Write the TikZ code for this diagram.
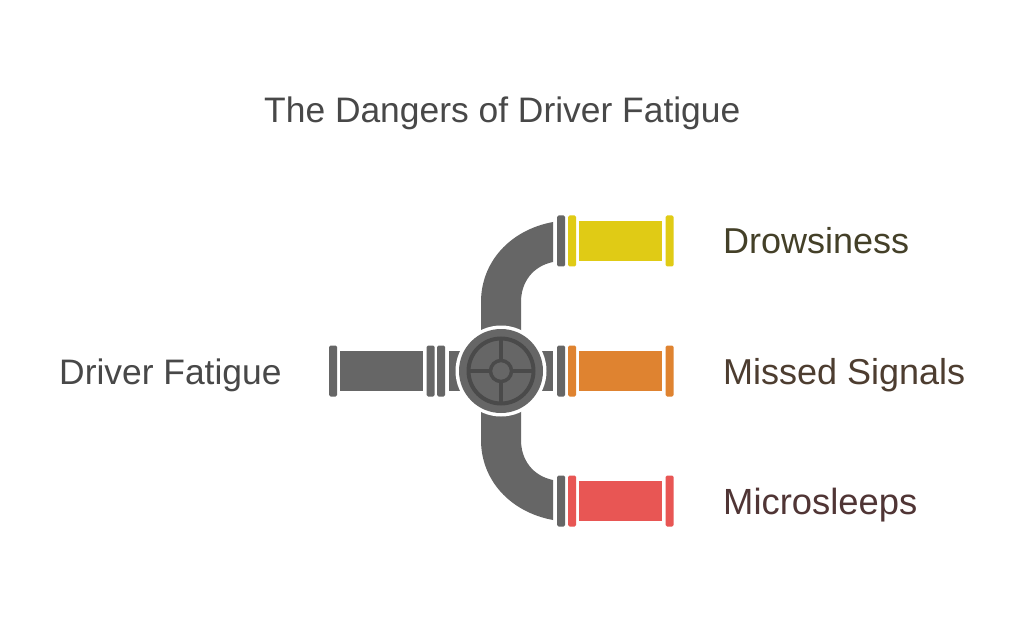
\documentclass[tikz,border=0pt]{standalone}
\usepackage{fontspec}
\setmainfont{Liberation Sans}
\definecolor{pipe}{HTML}{666666}
\definecolor{pipedark}{HTML}{4A4A4A}
\definecolor{txt}{HTML}{484848}
\definecolor{yel}{HTML}{E0CB15}
\definecolor{org}{HTML}{DF8330}
\definecolor{rd}{HTML}{E85654}
\tikzset{
 lab/.style={anchor=base west,inner sep=0pt,font=\fontsize{#1}{40}\selectfont},
 flange/.style={rounded corners=1.5pt},
}
\newcommand{\flange}[3]{\fill[#3,flange] (#1,#2-25.5) rectangle (#1+8,#2+25.5);}
\newcommand{\tube}[4]{\fill[#4] (#1,#3-20) rectangle (#2,#3+20);}
\begin{document}
\begin{tikzpicture}[x=1pt,y=-1pt]
\useasboundingbox (0,0) rectangle (1024,617);
\fill[white] (0,0) rectangle (1024,617);
% elbows
\fill[pipe] (553,222) .. controls (510,230) and (481,262) .. (481,302) -- (481,440)
  .. controls (481,480) and (510,512) .. (553,520) -- (553,480)
  .. controls (533,476) and (521,460) .. (521,440) -- (521,302)
  .. controls (521,282) and (533,266) .. (553,262) -- cycle;
% left pipe
\flange{329}{371}{pipe}
\tube{340}{423}{371}{pipe}
\flange{426.5}{371}{pipe}
\flange{437}{371}{pipe}
\tube{449}{470}{371}{pipe}
\tube{532}{553}{371}{pipe}
% grey flanges on the right
\flange{557}{241}{pipe}
\flange{557}{371}{pipe}
\flange{557}{501}{pipe}
% coloured outlets
\flange{568}{241}{yel}\tube{579}{662}{241}{yel}\flange{665.5}{241}{yel}
\flange{568}{371}{org}\tube{579}{662}{371}{org}\flange{665.5}{371}{org}
\flange{568}{501}{rd}\tube{579}{662}{501}{rd}\flange{665.5}{501}{rd}
% valve
\fill[white] (501,371) circle (45.5);
\fill[pipe] (501,371) circle (42);
\draw[pipedark,line width=4pt] (501,371) circle (32.5);
\draw[pipedark,line width=3.5pt] (501,339) -- (501,360) (501,382) -- (501,403)
  (469,371) -- (490,371) (512,371) -- (533,371);
\draw[pipedark,line width=3.5pt] (501,371) circle (10.5);
% labels
\node[lab=35.4,text=txt] (title) at (264,123) {The Dangers of Driver Fatigue};
\node[lab=35.4,text=txt] (src) at (59,384) {Driver Fatigue};
\node[lab=36,text={rgb,255:red,68;green,64;blue,40}] (a) at (723,253.5) {Drowsiness};
\node[lab=36,text={rgb,255:red,77;green,61;blue,48}] (b) at (723,384) {Missed Signals};
\node[lab=36.4,text={rgb,255:red,80;green,53;blue,53}] (c) at (723,514) {Microsleeps};
\end{tikzpicture}
\end{document}
